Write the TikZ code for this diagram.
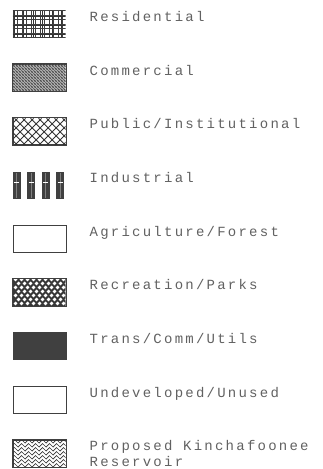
\documentclass[tikz,border=0pt]{standalone}
\usepackage{fontspec}
\usepackage{tikz}
\usetikzlibrary{calc, positioning}

\newfontfamily\legendfont[LetterSpace=16]{Liberation Mono}

\begin{document}
\begin{tikzpicture}[
        node distance=25.8pt,
        swatch/.style={rectangle, draw=black!75, line width=0.9pt,
            minimum width=53pt, minimum height=27pt, inner sep=0pt},
        lbl/.style={font=\legendfont\fontsize{14}{16}\selectfont, text=black!62,
            inner sep=0pt, align=left},
        thin hatch/.style={draw=black!75, line width=0.5pt},
        thick hatch/.style={draw=black!80, line width=0.9pt}
    ]
    \useasboundingbox (0pt,0pt) rectangle (322pt,469pt);

    % swatches, top to bottom
    \node [swatch, draw=none] (res) at (39.5pt,445pt) {};
    \node [swatch, below=of res] (com) {};
    \node [swatch, below=of com] (pub) {};
    \node [swatch, draw=none, below=of pub] (ind) {};
    \node [swatch, below=of ind] (agr) {};
    \node [swatch, below=of agr] (rec) {};
    \node [swatch, fill=black!75, below=of rec] (trn) {};
    \node [swatch, below=of trn] (und) {};
    \node [swatch, below=of und] (rsv) {};

    % residential grid
    \begin{scope}[shift={(res.south west)}]
        \clip (0pt,0pt) rectangle (53pt,27pt);
        \foreach \x in {0.5,5,...,54} \draw [thin hatch] (\x pt,0pt) -- (\x pt,27pt);
        \foreach \x in {1.5,11,...,54} \draw [thick hatch] (\x pt,0pt) -- (\x pt,27pt);
        \foreach \y in {0.5,5,...,28} \draw [thin hatch] (0pt,\y pt) -- (53pt,\y pt);
        \foreach \y in {3,12,...,28} \draw [thick hatch] (0pt,\y pt) -- (53pt,\y pt);
    \end{scope}

    % commercial fine hatch
    \begin{scope}[shift={(com.south west)}]
        \clip (0pt,0pt) rectangle (53pt,27pt);
        \fill [black!25] (0pt,0pt) rectangle (53pt,27pt);
        \foreach \x in {-30,-27,...,56} \draw [thin hatch, draw=black!80] (\x pt,27pt) -- (\x pt+27pt,0pt);
        \foreach \x in {-30,-27,...,56} \draw [thin hatch, draw=black!55] (\x pt,0pt) -- (\x pt+27pt,27pt);
    \end{scope}
    \draw [line width=0.9pt, draw=black!75] (com.south west) rectangle (com.north east);

    % public / institutional crosshatch
    \begin{scope}[shift={(pub.south west)}]
        \clip (0pt,0pt) rectangle (53pt,27pt);
        \foreach \x in {-30,-22,...,60} {
            \draw [thick hatch] (\x pt,0pt) -- (\x pt+27pt,27pt);
            \draw [thick hatch] (\x pt,27pt) -- (\x pt+27pt,0pt);
        }
    \end{scope}
    \draw [line width=0.9pt, draw=black!75] (pub.south west) rectangle (pub.north east);

    % industrial bars
    \begin{scope}[shift={(ind.south west)}]
        \foreach \x in {0,14.5,29,43.5} {
            \fill [black!75] (\x pt,0pt) rectangle (\x pt+8pt,27pt);
            \draw [black!50, line width=0.5pt] (\x pt+4pt,1pt) -- (\x pt+4pt,26pt);
            \draw [white, line width=0.8pt] (\x pt+1.5pt,17pt) -- (\x pt+6.5pt,17pt);
        }
    \end{scope}

    % recreation dots
    \begin{scope}[shift={(rec.south west)}]
        \clip (0pt,0pt) rectangle (53pt,27pt);
        \fill [black!78] (0pt,0pt) rectangle (53pt,27pt);
        \foreach \x in {3,9,...,54} \foreach \y in {3,11,...,28}
            \fill [white] (\x pt,\y pt) circle (1.9pt);
        \foreach \x in {6,12,...,57} \foreach \y in {7,15,...,28}
            \fill [white] (\x pt,\y pt) circle (1.9pt);
    \end{scope}
    \draw [line width=0.9pt, draw=black!75] (rec.south west) rectangle (rec.north east);

    % reservoir zigzag
    \begin{scope}[shift={(rsv.south west)}]
        \clip (0pt,0pt) rectangle (53pt,27pt);
        \foreach \y in {2,6,...,28}
            \draw [thin hatch, draw=black!80, line width=0.7pt] (-2pt,\y pt)
                \foreach \x in {0,7,...,56} { -- (\x pt+2pt,\y pt+2pt) -- (\x pt+5.5pt,\y pt-1.5pt) };
    \end{scope}
    \draw [line width=0.9pt, draw=black!75] (rsv.south west) rectangle (rsv.north east);

    % labels
    \node [lbl, right=23pt of res.north east, anchor=north west, yshift=-1pt] (resl) {Residential};
    \node [lbl, right=23pt of com.north east, anchor=north west, yshift=-1pt] (coml) {Commercial};
    \node [lbl, right=23pt of pub.north east, anchor=north west, yshift=-1pt] (publ) {Public/Institutional};
    \node [lbl, right=23pt of ind.north east, anchor=north west, yshift=-1pt] (indl) {Industrial};
    \node [lbl, right=23pt of agr.north east, anchor=north west, yshift=-1pt] (agrl) {Agriculture/Forest};
    \node [lbl, right=23pt of rec.north east, anchor=north west, yshift=-1pt] (recl) {Recreation/Parks};
    \node [lbl, right=23pt of trn.north east, anchor=north west, yshift=-1pt] (trnl) {Trans/Comm/Utils};
    \node [lbl, right=23pt of und.north east, anchor=north west, yshift=-1pt] (undl) {Undeveloped/Unused};
    \node [lbl, right=23pt of rsv.north east, anchor=north west, yshift=-1pt] (rsvl) {Proposed Kinchafoonee\\Reservoir};
\end{tikzpicture}
\end{document}
